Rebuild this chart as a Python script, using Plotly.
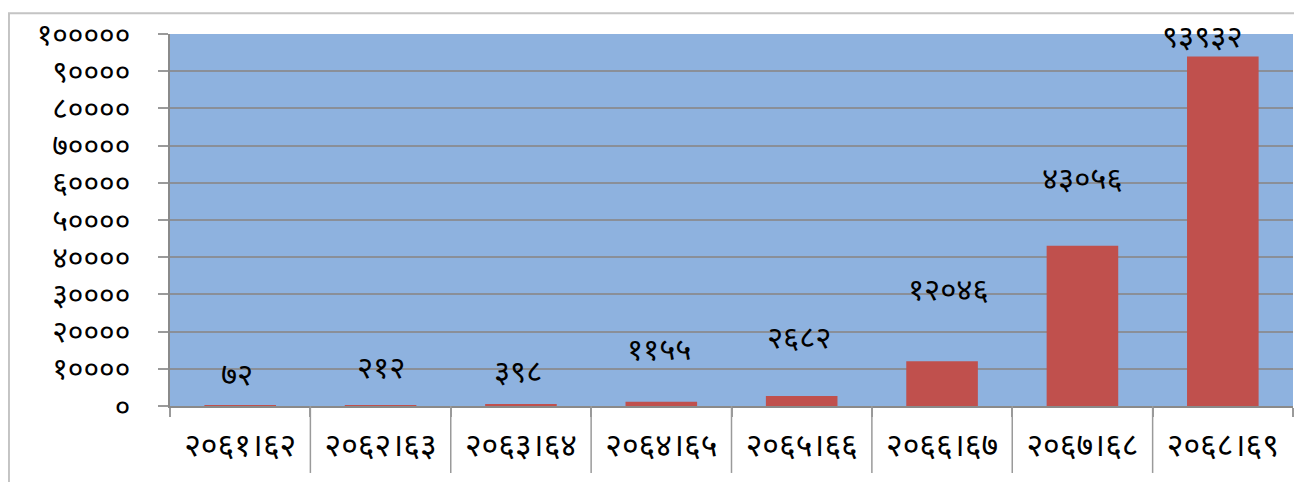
import plotly.graph_objects as go

# Fiscal years (Nepali calendar) and the yearly totals
years = ["२०६१।६२", "२०६२।६३", "२०६३।६४", "२०६४।६५",
         "२०६५।६६", "२०६६।६७", "२०६७।६८", "२०६८।६९"]
totals = [72, 212, 398, 1155, 2682, 12046, 43056, 93932]

# y axis ticks
ytick_vals = [0, 10000, 20000, 30000, 40000, 50000, 60000, 70000, 80000, 90000, 100000]
ytick_text = ["०", "१००००", "२००००", "३००००", "४००००", "५००००",
              "६००००", "७००००", "८००००", "९००००", "१०००००"]

# hand placed data labels in the original (pixel offsets from bar top)
label_lift = [28, 35, 30, 49, 56, 69, 64, 17]
label_dx = [-3, 0, -3, -2, -3, 6, 0, -20]

DEV = str.maketrans("0123456789", "०१२३४५६७८९")


def to_dev(n):
    return str(n).translate(DEV)


FONT = "Noto Sans Devanagari, Lohit Devanagari, Mangal, sans-serif"

# page body has an 8px margin, so the figure is drawn 8px smaller
W, H = 1294, 474

fig = go.Figure(go.Bar(
    x=years,
    y=totals,
    marker=dict(color="#C0504D", line=dict(width=0)),
    hoverinfo="x+y",
))

for i, (yr, v) in enumerate(zip(years, totals)):
    fig.add_annotation(
        x=yr, y=v, text=to_dev(v), showarrow=False,
        yshift=label_lift[i], xshift=label_dx[i],
        font=dict(family=FONT, size=31, color="black"),
    )

# long separators between categories below the axis
for i in range(1, len(years)):
    fig.add_shape(type="line", xref="x", yref="paper",
                  x0=i - 0.5, x1=i - 0.5, y0=0, y1=-0.18,
                  line=dict(color="#9a9a9a", width=1.5))

# outer chart border (top and left visible)
fig.add_shape(type="rect", xref="paper", yref="paper",
              x0=-0.1434, x1=1.02, y0=-0.3, y1=1.0559,
              line=dict(color="#c4c4c4", width=2), layer="below")

fig.update_layout(
    width=W, height=H,
    margin=dict(l=162, r=9, t=22, b=76),
    paper_bgcolor="white",
    plot_bgcolor="#8EB2DF",
    bargap=0.49,
    showlegend=False,
    font=dict(family=FONT, color="black"),
)

fig.update_xaxes(
    type="category",
    tickson="boundaries",
    ticks="outside", ticklen=9, tickcolor="#9a9a9a", tickwidth=1.5,
    ticklabelstandoff=10,
    showline=True, linecolor="#8a8a8a", linewidth=1.5,
    showgrid=False,
    tickfont=dict(family=FONT, size=32),
    range=[-0.5, len(years) - 0.5],
)

fig.update_yaxes(
    range=[0, 100000],
    tickvals=ytick_vals, ticktext=ytick_text,
    ticks="outside", ticklen=10, tickcolor="#9a9a9a", tickwidth=1.5,
    ticklabelstandoff=22,
    showline=True, linecolor="#8a8a8a", linewidth=1.5,
    showgrid=True, gridcolor="#8A8F98", gridwidth=1.5,
    zeroline=False,
    tickfont=dict(family=FONT, size=30),
)

fig.write_html("out.html")
